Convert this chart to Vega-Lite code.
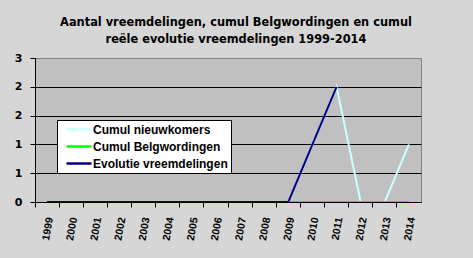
{
  "$schema": "https://vega.github.io/schema/vega-lite/v6.json",
  "width": 386,
  "height": 144,
  "autosize": {"type": "none"},
  "padding": {"left": 35, "top": 58, "right": 52, "bottom": 56},
  "background": "#d6d6d6",
  "title": {
    "text": ["Aantal vreemdelingen, cumul Belgwordingen en cumul", "reële evolutie vreemdelingen 1999-2014"],
    "font": "DejaVu Sans",
    "fontSize": 11.4,
    "fontWeight": "bold",
    "lineHeight": 17,
    "color": "black",
    "anchor": "middle",
    "dx": 8,
    "offset": 7
  },
  "config": {
    "view": {"fill": "#c0c0c0", "stroke": "#808080", "strokeWidth": 1},
    "axis": {"labelFont": "DejaVu Sans", "labelFontWeight": "bold", "labelFontSize": 11, "labelColor": "black", "domainColor": "black", "tickColor": "black", "titleFontSize": 0}
  },
  "data": {
    "values": [
      {"year": "1999", "series": "Cumul nieuwkomers", "value": 0},
      {"year": "2000", "series": "Cumul nieuwkomers", "value": 0},
      {"year": "2001", "series": "Cumul nieuwkomers", "value": 0},
      {"year": "2002", "series": "Cumul nieuwkomers", "value": 0},
      {"year": "2003", "series": "Cumul nieuwkomers", "value": 0},
      {"year": "2004", "series": "Cumul nieuwkomers", "value": 0},
      {"year": "2005", "series": "Cumul nieuwkomers", "value": 0},
      {"year": "2006", "series": "Cumul nieuwkomers", "value": 0},
      {"year": "2007", "series": "Cumul nieuwkomers", "value": 0},
      {"year": "2008", "series": "Cumul nieuwkomers", "value": 0},
      {"year": "2009", "series": "Cumul nieuwkomers", "value": 0},
      {"year": "2010", "series": "Cumul nieuwkomers", "value": 1},
      {"year": "2011", "series": "Cumul nieuwkomers", "value": 2},
      {"year": "2012", "series": "Cumul nieuwkomers", "value": 0},
      {"year": "2013", "series": "Cumul nieuwkomers", "value": 0},
      {"year": "2014", "series": "Cumul nieuwkomers", "value": 1},
      {"year": "1999", "series": "Cumul Belgwordingen", "value": 0},
      {"year": "2000", "series": "Cumul Belgwordingen", "value": 0},
      {"year": "2001", "series": "Cumul Belgwordingen", "value": 0},
      {"year": "2002", "series": "Cumul Belgwordingen", "value": 0},
      {"year": "2003", "series": "Cumul Belgwordingen", "value": 0},
      {"year": "2004", "series": "Cumul Belgwordingen", "value": 0},
      {"year": "2005", "series": "Cumul Belgwordingen", "value": 0},
      {"year": "2006", "series": "Cumul Belgwordingen", "value": 0},
      {"year": "2007", "series": "Cumul Belgwordingen", "value": 0},
      {"year": "2008", "series": "Cumul Belgwordingen", "value": 0},
      {"year": "2009", "series": "Cumul Belgwordingen", "value": 0},
      {"year": "2010", "series": "Cumul Belgwordingen", "value": 0},
      {"year": "2011", "series": "Cumul Belgwordingen", "value": 0},
      {"year": "2012", "series": "Cumul Belgwordingen", "value": 0},
      {"year": "2013", "series": "Cumul Belgwordingen", "value": 0},
      {"year": "2014", "series": "Cumul Belgwordingen", "value": 0},
      {"year": "1999", "series": "Evolutie vreemdelingen", "value": 0},
      {"year": "2000", "series": "Evolutie vreemdelingen", "value": 0},
      {"year": "2001", "series": "Evolutie vreemdelingen", "value": 0},
      {"year": "2002", "series": "Evolutie vreemdelingen", "value": 0},
      {"year": "2003", "series": "Evolutie vreemdelingen", "value": 0},
      {"year": "2004", "series": "Evolutie vreemdelingen", "value": 0},
      {"year": "2005", "series": "Evolutie vreemdelingen", "value": 0},
      {"year": "2006", "series": "Evolutie vreemdelingen", "value": 0},
      {"year": "2007", "series": "Evolutie vreemdelingen", "value": 0},
      {"year": "2008", "series": "Evolutie vreemdelingen", "value": 0},
      {"year": "2009", "series": "Evolutie vreemdelingen", "value": 0},
      {"year": "2010", "series": "Evolutie vreemdelingen", "value": 1},
      {"year": "2011", "series": "Evolutie vreemdelingen", "value": 2}
    ]
  },
  "mark": {"type": "line", "strokeWidth": 2, "clip": true},
  "encoding": {
    "x": {
      "field": "year",
      "type": "ordinal",
      "bandPosition": 0.5,
      "scale": {"type": "band", "paddingInner": 0, "paddingOuter": 0},
      "axis": {"title": null, "bandPosition": 0, "labelOffset": 3, "labelAngle": -80, "labelAlign": "right", "labelBaseline": "middle", "labelPadding": 10, "labelFont": "Liberation Sans", "labelFontSize": 10.5, "tickSize": 5, "grid": false}
    },
    "y": {
      "field": "value",
      "type": "quantitative",
      "scale": {"domain": [0, 2.5], "nice": false},
      "axis": {"title": null, "values": [0, 0.5, 1, 1.5, 2, 2.5], "labelExpr": "round(datum.value)", "tickSize": 5, "labelPadding": 8, "grid": true, "gridColor": {"condition": {"test": "datum.value == 2.5", "value": "#808080"}, "value": "black"}, "gridOpacity": 1}
    },
    "color": {
      "field": "series",
      "type": "nominal",
      "sort": ["Cumul nieuwkomers", "Cumul Belgwordingen", "Evolutie vreemdelingen"],
      "scale": {"domain": ["Cumul nieuwkomers", "Cumul Belgwordingen", "Evolutie vreemdelingen"], "range": ["#ccffff", "#00ff00", "#000080"]},
      "legend": {
        "title": null,
        "orient": "none",
        "legendX": 22,
        "legendY": 62,
        "fillColor": "white",
        "strokeColor": "black",
        "padding": 3,
        "symbolType": "M0,0H5",
        "symbolSize": 100,
        "symbolStrokeWidth": 2.5,
        "labelFont": "Liberation Sans",
        "labelFontWeight": "bold",
        "labelFontSize": 12,
        "labelColor": "black",
        "rowPadding": 4,
        "labelOffset": 20
      }
    },
    "order": {"field": "series", "sort": "ascending"}
  }
}
